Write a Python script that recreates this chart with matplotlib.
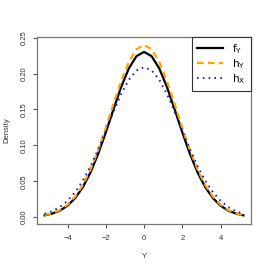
import matplotlib
matplotlib.use("Agg")
import matplotlib.pyplot as plt

plt.rcParams['font.family'] = ['Liberation Sans', 'DejaVu Sans']

# values (curves are symmetric around 0)
y_grid = [-5.2, -4.8, -4.4, -4.0, -3.6, -3.2, -2.8, -2.4, -2.0, -1.6, -1.2, -0.8, -0.4, 0.0,
          0.4, 0.8, 1.2, 1.6, 2.0, 2.4, 2.8, 3.2, 3.6, 4.0, 4.4, 4.8, 5.2]
f_y = [0.0025, 0.0050, 0.0091, 0.0160, 0.0266, 0.0418, 0.0623, 0.0882, 0.1182, 0.1503, 0.1812, 0.2070, 0.2242, 0.2303,
       0.2242, 0.2070, 0.1812, 0.1503, 0.1182, 0.0882, 0.0623, 0.0418, 0.0266, 0.0160, 0.0091, 0.0050, 0.0025]
h_y = [0.0029, 0.0055, 0.0100, 0.0174, 0.0287, 0.0448, 0.0664, 0.0934, 0.1246, 0.1578, 0.1895, 0.2161, 0.2338, 0.2400,
       0.2338, 0.2161, 0.1895, 0.1578, 0.1246, 0.0934, 0.0664, 0.0448, 0.0287, 0.0174, 0.0100, 0.0055, 0.0029]
h_x = [0.0046, 0.0083, 0.0141, 0.0228, 0.0350, 0.0509, 0.0709, 0.0944, 0.1204, 0.1468, 0.1714, 0.1913, 0.2044, 0.2090,
       0.2044, 0.1913, 0.1714, 0.1468, 0.1204, 0.0944, 0.0709, 0.0509, 0.0350, 0.0228, 0.0141, 0.0083, 0.0046]

xticks = [-4, -2, 0, 2, 4]
yticks = [0.00, 0.05, 0.10, 0.15, 0.20, 0.25]

fig = plt.figure(figsize=(2.7, 2.7), dpi=100)
ax = fig.add_axes([0.137, 0.170, 0.793, 0.694])

ax.plot(y_grid, f_y, color='black', lw=1.6, label=r'$\mathrm{f}_\mathrm{Y}$')
ax.plot(y_grid, h_y, color='#FFA500', lw=1.6, dashes=(3.0, 1.9), label=r'$\mathrm{h}_\mathrm{Y}$')
ax.plot(y_grid, h_x, color='#1010FF', lw=1.4, dashes=(0.8, 2.2), label=r'$\mathrm{h}_\mathrm{X}$')

ax.set_xlim(-5.6, 5.6)
ax.set_ylim(-0.0097, 0.2514)
ax.set_xticks(xticks)
ax.set_xticklabels([str(t).replace('-', '\u2212') for t in xticks])
ax.set_yticks(yticks)
ax.set_yticklabels(['%.2f' % t for t in yticks], rotation=90, va='center')
ax.tick_params(labelsize=5.5, length=3, width=0.8, color='#555555', labelcolor='#333333')
ax.tick_params(axis='x', pad=5)
ax.tick_params(axis='y', pad=4)
for s in ax.spines.values():
    s.set_color('#777777')
    s.set_linewidth(0.9)

ax.set_xlabel('Y', fontsize=5.5, color='#333333', labelpad=8)
ax.set_ylabel('Density', fontsize=5.5, color='#333333', labelpad=7)

leg = ax.legend(loc='upper right', borderaxespad=0, fancybox=False, framealpha=1,
                edgecolor='#333333', fontsize=7.5, handlelength=2.5, handletextpad=0.9,
                labelspacing=0.12, borderpad=0.5)
leg.get_frame().set_linewidth(0.8)

fig.savefig('out.png', dpi=100)
